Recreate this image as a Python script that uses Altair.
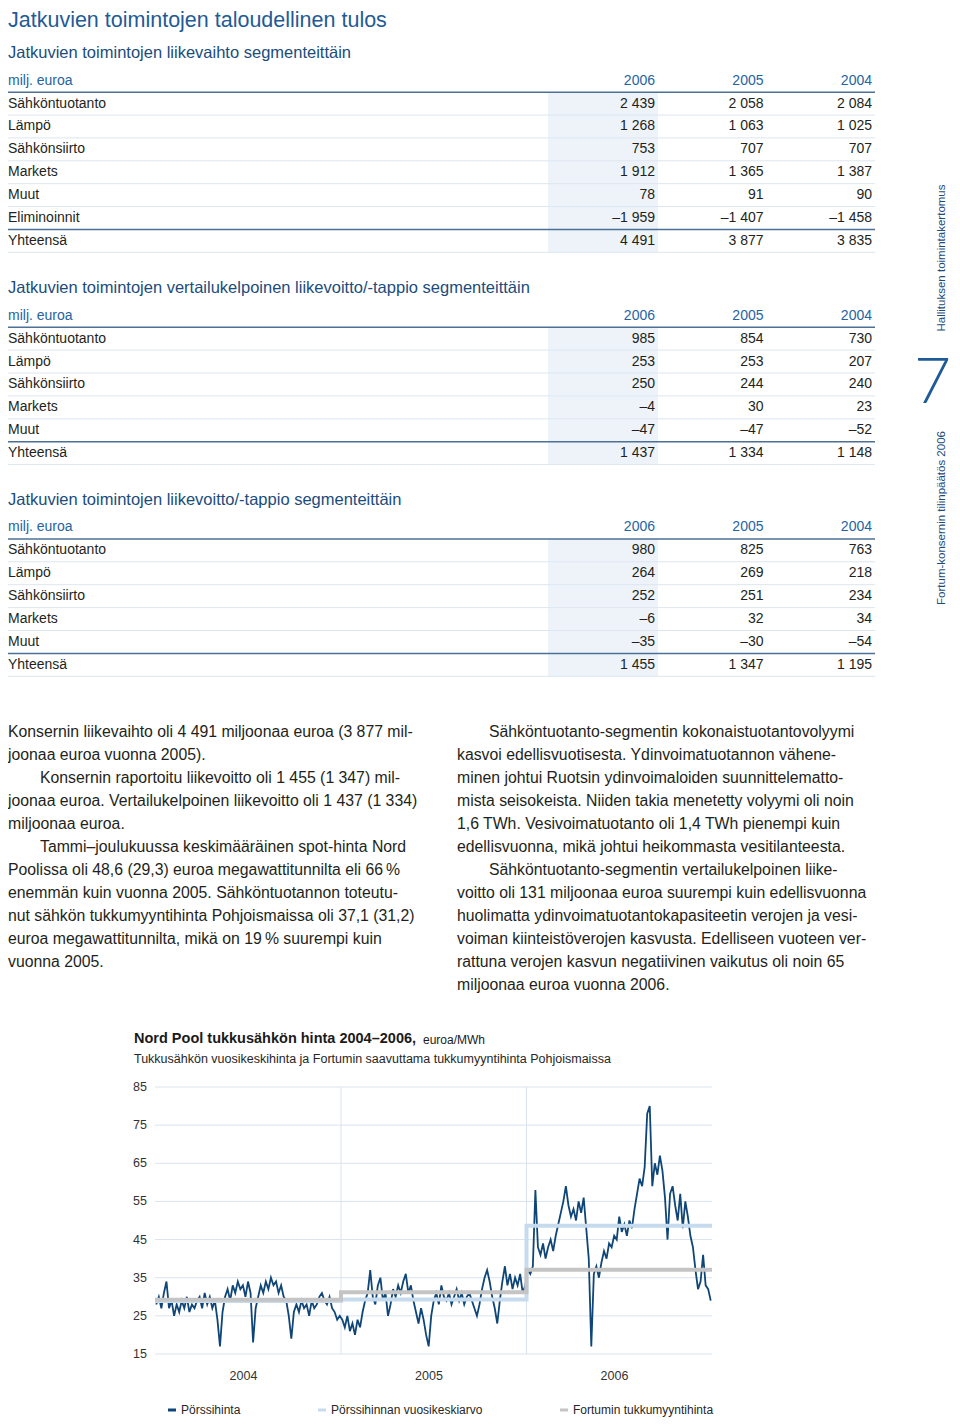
import altair as alt
import pandas as pd

# ---------------- data ----------------
page_title = "Jatkuvien toimintojen taloudellinen tulos"
years = ["2006", "2005", "2004"]
unit_label = "milj. euroa"

t1_title = "Jatkuvien toimintojen liikevaihto segmenteittäin"
t1_rows = ["Sähköntuotanto", "Lämpö", "Sähkönsiirto", "Markets", "Muut", "Eliminoinnit", "Yhteensä"]
t1_2006 = [2439, 1268, 753, 1912, 78, -1959, 4491]
t1_2005 = [2058, 1063, 707, 1365, 91, -1407, 3877]
t1_2004 = [2084, 1025, 707, 1387, 90, -1458, 3835]

t2_title = "Jatkuvien toimintojen vertailukelpoinen liikevoitto/-tappio segmenteittäin"
t2_rows = ["Sähköntuotanto", "Lämpö", "Sähkönsiirto", "Markets", "Muut", "Yhteensä"]
t2_2006 = [985, 253, 250, -4, -47, 1437]
t2_2005 = [854, 253, 244, 30, -47, 1334]
t2_2004 = [730, 207, 240, 23, -52, 1148]

t3_title = "Jatkuvien toimintojen liikevoitto/-tappio segmenteittäin"
t3_rows = ["Sähköntuotanto", "Lämpö", "Sähkönsiirto", "Markets", "Muut", "Yhteensä"]
t3_2006 = [980, 264, 252, -6, -35, 1455]
t3_2005 = [825, 269, 251, 32, -30, 1347]
t3_2004 = [763, 218, 234, 34, -54, 1195]

left_paras = [
    ["Konsernin liikevaihto oli 4 491 miljoonaa euroa (3 877 mil-",
     "joonaa euroa vuonna 2005)."],
    ["Konsernin raportoitu liikevoitto oli 1 455 (1 347) mil-",
     "joonaa euroa. Vertailukelpoinen liikevoitto oli 1 437 (1 334)",
     "miljoonaa euroa."],
    ["Tammi–joulukuussa keskimääräinen spot-hinta Nord",
     "Poolissa oli 48,6 (29,3) euroa megawattitunnilta eli 66\u2009%",
     "enemmän kuin vuonna 2005. Sähköntuotannon toteutu-",
     "nut sähkön tukkumyyntihinta Pohjoismaissa oli 37,1 (31,2)",
     "euroa megawattitunnilta, mikä on 19\u2009% suurempi kuin",
     "vuonna 2005."],
]
right_paras = [
    ["Sähköntuotanto-segmentin kokonaistuotantovolyymi",
     "kasvoi edellisvuotisesta. Ydinvoimatuotannon vähene-",
     "minen johtui Ruotsin ydinvoimaloiden suunnittelematto-",
     "mista seisokeista. Niiden takia menetetty volyymi oli noin",
     "1,6 TWh. Vesivoimatuotanto oli 1,4 TWh pienempi kuin",
     "edellisvuonna, mikä johtui heikommasta vesitilanteesta."],
    ["Sähköntuotanto-segmentin vertailukelpoinen liike-",
     "voitto oli 131 miljoonaa euroa suurempi kuin edellisvuonna",
     "huolimatta ydinvoimatuotantokapasiteetin verojen ja vesi-",
     "voiman kiinteistöverojen kasvusta. Edelliseen vuoteen ver-",
     "rattuna verojen kasvun negatiivinen vaikutus oli noin 65",
     "miljoonaa euroa vuonna 2006."],
]

side_top = "Hallituksen toimintakertomus"
side_num = "7"
side_bottom = "Fortum-konsernin tilinpäätös 2006"

chart_title = "Nord Pool tukkusähkön hinta 2004–2006,"
chart_unit = "euroa/MWh"
chart_subtitle = "Tukkusähkön vuosikeskihinta ja Fortumin saavuttama tukkumyyntihinta Pohjoismaissa"

series_names = ["Pörssihinta", "Pörssihinnan vuosikeskiarvo", "Fortumin tukkumyyntihinta"]
price_years = [2004, 2005, 2006]
price_2004 = [28, 30, 27, 31, 34, 27, 29, 25, 28, 26, 29, 27, 30, 26, 28, 27,
              29, 30, 27, 31, 28, 30, 27, 29, 24, 17, 26, 30, 32, 29, 33, 31,
              34, 32, 33, 30, 34, 31, 18, 27, 30, 33, 31, 34, 32, 35, 33, 34,
              31, 33, 30, 29, 25, 19, 26, 28, 26, 29, 27, 28, 25, 29, 27, 28,
              30, 31, 29, 28, 30, 27, 26, 24, 25]
price_2005 = [24, 22, 25, 21, 23, 20, 24, 22, 26, 29, 31, 37, 30, 28, 33, 35,
              29, 31, 25, 28, 32, 30, 33, 31, 34, 36, 31, 33, 29, 26, 23, 27,
              24, 20, 17, 25, 29, 31, 28, 33, 30, 29, 31, 28, 30, 32, 29, 31,
              28, 30, 31, 29, 27, 25, 28, 32, 35, 37, 34, 30, 27, 23, 29, 34,
              38, 33, 36, 32, 35, 33, 36, 31, 33]
price_2006 = [37, 36, 38, 58, 43, 41, 44, 40, 43, 45, 42, 46, 49, 52, 55, 59,
              54, 51, 53, 50, 55, 52, 56, 48, 40, 17, 36, 38, 35, 39, 42, 40,
              44, 43, 46, 45, 51, 47, 49, 46, 50, 48, 53, 57, 61, 59, 64, 78,
              80, 59, 65, 62, 67, 63, 56, 45, 57, 59, 54, 50, 57, 48, 55, 51,
              46, 43, 37, 32, 34, 41, 33, 32, 29]
nordpool_avg = [28.9, 29.3, 48.6]
fortum_price = [29.2, 31.2, 37.1]
y_ticks = [15, 25, 35, 45, 55, 65, 75, 85]
x_labels = ["2004", "2005", "2006"]

# ---------------- style ----------------
FONT = "Liberation Sans"
BLUE_TITLE = "#1f5b96"
BLUE_SUB = "#1b4c7c"
BLUE_HEAD = "#2563a3"
TEXT = "#231f20"
RULE_DARK = "#4d7196"
RULE_LIGHT = "#dde6ef"
SHADE = "#edf3f9"
GRID = "#d9e4ee"
SPOT = "#0f4677"
AVG = "#c6dcee"
FORTUM = "#c4c4c4"

W, H = 944, 1409


def X(px):
    return max(px - 8, 0)


def Y(py):
    return py - 8


def txt(s, x, y, size, color, weight="normal", align="left", baseline="middle", angle=0, font=FONT):
    kw = dict(align=align, baseline=baseline, fontSize=size, color=color, fontWeight=weight, font=font)
    if angle:
        kw["angle"] = angle
    return alt.Chart(pd.DataFrame({"t": [s]})).mark_text(**kw).encode(
        x=alt.value(x), y=alt.value(y), text="t:N")


def fmt(v):
    s = f"{abs(v):,}".replace(",", " ")
    return ("–" + s) if v < 0 else s


def table(title, title_y, rows, v06, v05, v04, top, bottom):
    out = []
    all_rows = [unit_label] + rows
    ys = alt.Scale(type="band", domain=all_rows, range=[Y(top), Y(bottom)],
                   paddingInner=0, paddingOuter=0)

    def yb(bp=None):
        if bp is None:
            return alt.Y("row:N", scale=ys, axis=None)
        return alt.Y("row:N", scale=ys, axis=None, bandPosition=bp)

    xs = alt.Scale(type="point", domain=years, range=[X(655), X(872)], padding=0)
    seg = pd.DataFrame({"row": rows})
    out.append(txt(title, 0, Y(title_y), 16.5, BLUE_SUB))
    out.append(alt.Chart(seg).mark_rect(color=SHADE).encode(
        y=yb(), x=alt.value(X(548)), x2=alt.value(X(658))))
    out.append(alt.Chart(seg).mark_rule(color=RULE_LIGHT, strokeWidth=1).encode(
        y=yb(1), x=alt.value(0), x2=alt.value(X(875))))
    dark = pd.DataFrame({"row": [rows[0], rows[-1]]})
    out.append(alt.Chart(dark).mark_rule(color=RULE_DARK, strokeWidth=1.5).encode(
        y=yb(0), x=alt.value(0), x2=alt.value(X(875))))
    lab = pd.DataFrame({"row": all_rows, "kind": ["h"] + ["d"] * len(rows)})
    out.append(alt.Chart(lab).mark_text(align="left", baseline="middle", fontSize=14, font=FONT).encode(
        y=yb(), x=alt.value(0), text="row:N",
        color=alt.condition(alt.datum.kind == "h", alt.value(BLUE_HEAD), alt.value(TEXT))))
    recs = [{"row": unit_label, "year": yr, "text": yr, "kind": "h"} for yr in years]
    for i, r in enumerate(rows):
        for yr, vals in zip(years, [v06, v05, v04]):
            recs.append({"row": r, "year": yr, "text": fmt(vals[i]), "kind": "d"})
    out.append(alt.Chart(pd.DataFrame(recs)).mark_text(align="right", baseline="middle", fontSize=14, font=FONT).encode(
        y=yb(), x=alt.X("year:N", scale=xs, axis=None), text="text:N",
        color=alt.condition(alt.datum.kind == "h", alt.value(BLUE_HEAD), alt.value(TEXT))))
    return out


layers = []

# page title
layers.append(txt(page_title, 0, 2, 21.5, BLUE_TITLE, baseline="top"))

# tables
layers += table(t1_title, 53, t1_rows, t1_2006, t1_2005, t1_2004, 69.3, 252.3)
layers += table(t2_title, 288, t2_rows, t2_2006, t2_2005, t2_2004, 304.3, 464.6)
layers += table(t3_title, 500, t3_rows, t3_2006, t3_2005, t3_2004, 516.0, 676.3)

# side texts
layers.append(txt(side_top, X(942), Y(258), 11.5, BLUE_SUB, align="center", angle=270))
layers.append(txt(side_num, W - 1, Y(384), 64, BLUE_TITLE, weight=300, align="right", font="Lato"))
layers.append(txt(side_bottom, X(942), Y(518), 11.5, BLUE_SUB, align="center", angle=270))

# body text
body = []
for col, paras in [("left", left_paras), ("right", right_paras)]:
    k = 0
    for pi, para in enumerate(paras):
        for li, line in enumerate(para):
            indent = li == 0 and not (col == "left" and pi == 0)
            body.append({"col": col, "line": k, "text": line, "indent": indent})
            k += 1
body_df = pd.DataFrame(body)
body_y = alt.Scale(domain=[0, 11], range=[Y(732), Y(985)])
for col, x0 in [("left", X(5)), ("right", X(457))]:
    for ind, dx in [(False, 0), (True, 32)]:
        sub = body_df[(body_df.col == col) & (body_df.indent == ind)]
        layers.append(alt.Chart(sub).mark_text(align="left", baseline="middle", fontSize=15.8,
                                               font=FONT, color=TEXT, dx=dx).encode(
            x=alt.value(x0), y=alt.Y("line:Q", scale=body_y, axis=None), text="text:N"))

# ---------------- price chart ----------------
layers.append(txt(chart_title, X(134), Y(1039), 14.5, "#1a1a1a", weight="bold"))
layers.append(txt(chart_unit, X(423), Y(1040), 12, "#1a1a1a"))
layers.append(txt(chart_subtitle, X(134), Y(1059), 12.5, "#262626"))

xs = alt.Scale(domain=[alt.DateTime(year=2004, month=1, date=1), alt.DateTime(year=2007, month=1, date=1)],
               range=[X(155), X(712)])
ys = alt.Scale(domain=[15, 85], range=[Y(1354), Y(1087)], nice=False, zero=False)

tick_df = pd.DataFrame({"v": y_ticks, "lab": [str(t) for t in y_ticks]})
layers.append(alt.Chart(tick_df).mark_rule(color=GRID, strokeWidth=1).encode(
    y=alt.Y("v:Q", scale=ys, axis=None), x=alt.value(X(155)), x2=alt.value(X(712))))
layers.append(alt.Chart(tick_df).mark_text(align="right", baseline="middle", fontSize=12.5,
                                           font=FONT, color="#333333").encode(
    y=alt.Y("v:Q", scale=ys, axis=None), x=alt.value(X(147)), text="lab:N"))

bound_df = pd.DataFrame({"d": [pd.Timestamp(y, 1, 1) for y in price_years[1:]]})
layers.append(alt.Chart(bound_df).mark_rule(color=GRID, strokeWidth=1).encode(
    x=alt.X("d:T", scale=xs, axis=None), y=alt.value(Y(1087)), y2=alt.value(Y(1354))))

xl_df = pd.DataFrame({"d": [pd.Timestamp(y, 7, 1) for y in price_years], "lab": x_labels})
layers.append(alt.Chart(xl_df).mark_text(align="center", baseline="middle", fontSize=12.5,
                                         font=FONT, color="#333333", dx=-4).encode(
    x=alt.X("d:T", scale=xs, axis=None), y=alt.value(Y(1376)), text="lab:N"))

spot = []
for yr, vals in zip(price_years, [price_2004, price_2005, price_2006]):
    ndays = 366 if yr % 4 == 0 else 365
    n = len(vals)
    for i, v in enumerate(vals):
        spot.append({"date": pd.Timestamp(yr, 1, 1) + pd.Timedelta(days=(i + 0.5) * ndays / n),
                     "value": v, "series": series_names[0]})
spot_df = pd.DataFrame(spot)


def step_df(vals, name):
    d = [pd.Timestamp(y, 1, 1) for y in price_years] + [pd.Timestamp(price_years[-1] + 1, 1, 1)]
    v = list(vals) + [vals[-1]]
    return pd.DataFrame({"date": d, "value": v, "series": name})


cscale = alt.Scale(domain=series_names, range=[SPOT, AVG, FORTUM])
leg = alt.Legend(orient="none", legendX=X(166), legendY=Y(1404), direction="horizontal", columns=3,
                 title=None, symbolType="stroke", symbolSize=64, symbolStrokeWidth=3,
                 labelFontSize=12, labelFont=FONT, labelColor="#262626", labelOffset=3,
                 columnPadding=71, labelLimit=300, padding=0)

layers.append(alt.Chart(spot_df).mark_line(strokeWidth=1.8).encode(
    x=alt.X("date:T", scale=xs, axis=None), y=alt.Y("value:Q", scale=ys, axis=None),
    color=alt.Color("series:N", scale=cscale, legend=leg)))
layers.append(alt.Chart(step_df(nordpool_avg, series_names[1])).mark_line(
    strokeWidth=4, interpolate="step-after").encode(
    x=alt.X("date:T", scale=xs, axis=None), y=alt.Y("value:Q", scale=ys, axis=None),
    color=alt.Color("series:N", scale=cscale, legend=leg)))
layers.append(alt.Chart(step_df(fortum_price, series_names[2])).mark_line(
    strokeWidth=4, interpolate="step-after").encode(
    x=alt.X("date:T", scale=xs, axis=None), y=alt.Y("value:Q", scale=ys, axis=None),
    color=alt.Color("series:N", scale=cscale, legend=leg)))

chart = alt.layer(*layers).resolve_scale(x="independent", y="independent").properties(
    width=W, height=H, autosize=alt.AutoSizeParams(type="none"), padding=0
).configure(font=FONT).configure_view(stroke="transparent", strokeWidth=0)

chart.save("out.html", embed_options={"renderer": "svg", "actions": False})
